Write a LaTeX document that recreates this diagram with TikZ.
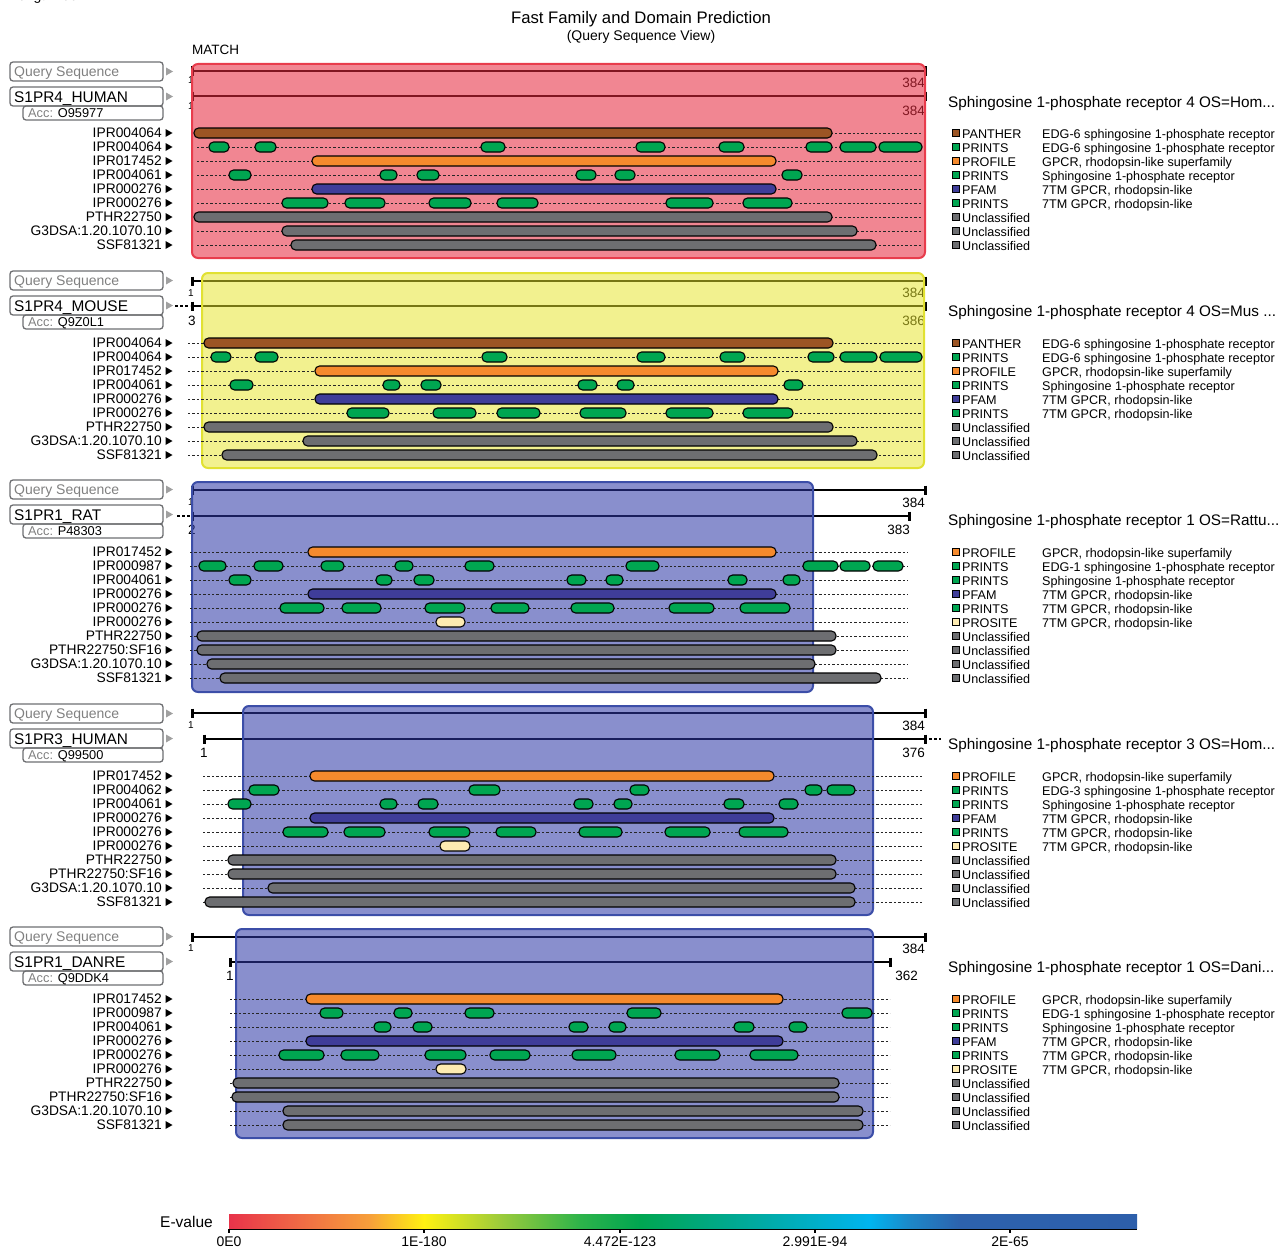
\documentclass[tikz,border=0pt]{standalone}
\usepackage{fontspec}
\setmainfont{Liberation Sans}
\definecolor{cpanther}{HTML}{9C5524}
\definecolor{cprints}{HTML}{00A651}
\definecolor{cprofile}{HTML}{F58A2D}
\definecolor{cpfam}{HTML}{3F3D99}
\definecolor{cuncl}{HTML}{6D6E71}
\definecolor{cprosite}{HTML}{FDEBB1}
\definecolor{ovred}{RGB}{230,40,60}
\definecolor{bdred}{RGB}{232,60,76}
\definecolor{ovyel}{RGB}{230,228,40}
\definecolor{bdyel}{RGB}{225,225,50}
\definecolor{ovblue}{RGB}{45,55,165}
\definecolor{bdblue}{RGB}{60,78,168}
\definecolor{boxgray}{HTML}{6D6E71}
\definecolor{qgray}{HTML}{808080}
\definecolor{tgray}{HTML}{A0A0A0}
\definecolor{e1}{HTML}{E8334A}
\definecolor{e2}{HTML}{F06B45}
\definecolor{e3}{HTML}{F7A03A}
\definecolor{e4}{HTML}{FFF212}
\definecolor{e5}{HTML}{9CCB3B}
\definecolor{e6}{HTML}{2DB34A}
\definecolor{e7}{HTML}{00A651}
\definecolor{e8}{HTML}{00A88F}
\definecolor{e9}{HTML}{00B4EF}
\definecolor{e10}{HTML}{1D87C8}
\definecolor{e11}{HTML}{2D62AD}
\definecolor{e12}{HTML}{2D5FAB}
\tikzset{
 x=1pt,y=-1pt,
 dom/.style={draw=black,line width=1.1pt,rounded corners=4.6pt},
 rowdash/.style={line width=0.8pt,dash pattern=on 2.4pt off 2pt,black!85},
 lab/.style={font=\fontsize{13.8}{14}\selectfont,inner sep=0,anchor=base east},
 legt/.style={font=\fontsize{12.6}{13}\selectfont,inner sep=0,anchor=base west},
 ptitle/.style={font=\fontsize{15.3}{16}\selectfont,inner sep=0,anchor=base west},
 num/.style={font=\fontsize{13.5}{14}\selectfont,inner sep=0},
 snum/.style={font=\fontsize{10}{11}\selectfont,inner sep=0,anchor=base west},
 seq/.style={line width=2.3pt},
 tk/.style={line width=3pt},
 hbox/.style={draw=boxgray,line width=1.3pt,rounded corners=3pt},
 dotext/.style={line width=2.5pt,dash pattern=on 2.5pt off 2.5pt},
}
\newcommand\rowlab[2]{\node[lab] at (162,#1+4.9) {#2};\fill (165.5,#1-4)--(172.5,#1)--(165.5,#1+4)--cycle;}
\newcommand\dashrow[3]{\draw[rowdash] (#2,#1)--(#3,#1);}
\newcommand\bars[3]{\foreach \a/\b in {#2}{\draw[dom,fill=#3] (\a,#1-5) rectangle (\b,#1+5);}}
\newcommand\legitem[4]{\draw[fill=#2,line width=0.9pt] (952.5,#1-4.5) rectangle (959.5,#1+2.5); \node[legt] at (962,#1+4.5) {#3}; \node[legt] at (1042,#1+4.5) {#4};}
\newcommand\seqline[3]{\draw[seq] (#2,#1)--(#3,#1); \draw[tk] (#2,#1-4.5)--(#2,#1+4.5); \draw[tk] (#3,#1-4.5)--(#3,#1+4.5);}
\newcommand\headboxes[3]{%
 \draw[hbox] (10,#1) rectangle (163,#1+19);
 \node[font=\fontsize{14}{15}\selectfont,text=qgray,inner sep=0,anchor=base west] at (14,#1+14.5) {Query Sequence};
 \draw[hbox] (10,#1+25) rectangle (163,#1+44);
 \node[font=\fontsize{15.4}{16}\selectfont,inner sep=0,anchor=base west] at (14,#1+40) {#2};
 \draw[hbox] (23,#1+44) rectangle (163,#1+58);
 \node[font=\fontsize{12.8}{13}\selectfont,inner sep=0,anchor=base west] at (28,#1+55.6) {\textcolor{qgray}{Acc:} #3};
 \fill[tgray] (166,#1+5.5)--(173,#1+9.5)--(166,#1+13.5)--cycle;
 \fill[tgray] (166,#1+30.5)--(173,#1+34.5)--(166,#1+38.5)--cycle;}
\newcommand\cseg[4]{\shade[left color=#3,right color=#4] (#1,1214) rectangle (#2,1228);}
\begin{document}
\begin{tikzpicture}
\useasboundingbox (0,0) rectangle (1279,1247);
\node[font=\fontsize{14}{15}\selectfont,inner sep=0,anchor=base west] (len) at (10,1) {Length: 384};
\node[font=\fontsize{16.7}{18}\selectfont,inner sep=0,anchor=base] (title) at (641,24) {Fast Family and Domain Prediction};
\node[font=\fontsize{14}{15}\selectfont,inner sep=0,anchor=base] (subtitle) at (641,41) {(Query Sequence View)};
\node[font=\fontsize{13.5}{14}\selectfont,inner sep=0,anchor=base west] (match) at (192,55) {MATCH};

%% ---------------- Panel 1
\headboxes{62}{S1PR4\_HUMAN}{O95977}
\seqline{71}{192}{925}
\seqline{96}{192}{925}
\node[snum] at (188,84) {1};
\node[snum] at (188,109) {1};
\node[num,anchor=base east] at (925,88) {384};
\node[num,anchor=base east] at (925,115) {384};
\fill[ovred,fill opacity=0.56,rounded corners=6pt] (192,64) rectangle (925,258);
\draw[bdred,line width=2pt,rounded corners=6pt] (192,64) rectangle (925,258);
\foreach \y/\l in {133/IPR004064,147/IPR004064,161/IPR017452,175/IPR004061,189/IPR000276,203/IPR000276,217/PTHR22750,231/G3DSA:1.20.1070.10,245/SSF81321}{\rowlab{\y}{\l}\dashrow{\y}{197}{922}}
\bars{133}{194/832}{cpanther}
\bars{147}{209/229,255/276,481/505,636/665,719/744,806/832,840/876,879/922}{cprints}
\bars{161}{312/776}{cprofile}
\bars{175}{229/251,380/397,417/439,576/596,615/635,782/802}{cprints}
\bars{189}{312/776}{cpfam}
\bars{203}{282/328,345/385,429/471,497/538,666/713,743/792}{cprints}
\bars{217}{194/832}{cuncl}
\bars{231}{282/857}{cuncl}
\bars{245}{291/876}{cuncl}
\node[ptitle] at (948,107.5) {Sphingosine 1-phosphate receptor 4 OS=Hom...};
\legitem{134}{cpanther}{PANTHER}{EDG-6 sphingosine 1-phosphate receptor}
\legitem{148}{cprints}{PRINTS}{EDG-6 sphingosine 1-phosphate receptor}
\legitem{162}{cprofile}{PROFILE}{GPCR, rhodopsin-like superfamily}
\legitem{176}{cprints}{PRINTS}{Sphingosine 1-phosphate receptor}
\legitem{190}{cpfam}{PFAM}{7TM GPCR, rhodopsin-like}
\legitem{204}{cprints}{PRINTS}{7TM GPCR, rhodopsin-like}
\legitem{218}{cuncl}{Unclassified}{}
\legitem{232}{cuncl}{Unclassified}{}
\legitem{246}{cuncl}{Unclassified}{}

%% ---------------- Panel 2
\headboxes{271}{S1PR4\_MOUSE}{Q9Z0L1}
\seqline{281}{192}{925}
\seqline{306}{192}{925}
\draw[dotext] (175,306)--(190,306);
\node[snum] at (188,296.5) {1};
\node[num,anchor=base west] at (188,325) {3};
\node[num,anchor=base east] at (925,297) {384};
\node[num,anchor=base east] at (925,325) {386};
\fill[ovyel,fill opacity=0.52,rounded corners=6pt] (202,273) rectangle (924,468);
\draw[bdyel,line width=2pt,rounded corners=6pt] (202,273) rectangle (924,468);
\foreach \y/\l in {343/IPR004064,357/IPR004064,371/IPR017452,385/IPR004061,399/IPR000276,413/IPR000276,427/PTHR22750,441/G3DSA:1.20.1070.10,455/SSF81321}{\rowlab{\y}{\l}\dashrow{\y}{188}{922}}
\bars{343}{204/833}{cpanther}
\bars{357}{211/231,255/278,482/507,637/665,720/745,808/834,840/877,880/922}{cprints}
\bars{371}{315/778}{cprofile}
\bars{385}{230/253,383/400,421/441,578/597,617/634,784/803}{cprints}
\bars{399}{315/778}{cpfam}
\bars{413}{347/389,433/476,497/540,580/626,666/713,743/793}{cprints}
\bars{427}{204/833}{cuncl}
\bars{441}{303/857}{cuncl}
\bars{455}{222/877}{cuncl}
\node[ptitle] at (948,316.5) {Sphingosine 1-phosphate receptor 4 OS=Mus ...};
\legitem{344}{cpanther}{PANTHER}{EDG-6 sphingosine 1-phosphate receptor}
\legitem{358}{cprints}{PRINTS}{EDG-6 sphingosine 1-phosphate receptor}
\legitem{372}{cprofile}{PROFILE}{GPCR, rhodopsin-like superfamily}
\legitem{386}{cprints}{PRINTS}{Sphingosine 1-phosphate receptor}
\legitem{400}{cpfam}{PFAM}{7TM GPCR, rhodopsin-like}
\legitem{414}{cprints}{PRINTS}{7TM GPCR, rhodopsin-like}
\legitem{428}{cuncl}{Unclassified}{}
\legitem{442}{cuncl}{Unclassified}{}
\legitem{456}{cuncl}{Unclassified}{}

%% ---------------- Panel 3
\headboxes{480}{S1PR1\_RAT}{P48303}
\seqline{490}{192}{925}
\seqline{516}{192}{909}
\draw[dotext] (177,516)--(190,516);
\node[snum] at (188,505.5) {1};
\node[num,anchor=base west] at (188,534) {2};
\node[num,anchor=base east] at (925,507) {384};
\node[num,anchor=base east] at (910,534) {383};
\fill[ovblue,fill opacity=0.56,rounded corners=6pt] (192,482) rectangle (813,692);
\draw[bdblue,line width=2pt,rounded corners=6pt] (192,482) rectangle (813,692);
\foreach \y/\l in {552/IPR017452,566/IPR000987,580/IPR004061,594/IPR000276,608/IPR000276,622/IPR000276,636/PTHR22750,650/PTHR22750:SF16,664/G3DSA:1.20.1070.10,678/SSF81321}{\rowlab{\y}{\l}\dashrow{\y}{190}{908}}
\bars{552}{308/776}{cprofile}
\bars{566}{199/226,254/283,321/344,395/413,465/494,626/659,803/838,840/870,873/903}{cprints}
\bars{580}{229/251,376/392,414/434,567/586,606/623,728/747,783/800}{cprints}
\bars{594}{308/776}{cpfam}
\bars{608}{280/324,342/381,425/465,491/529,571/614,669/714,740/790}{cprints}
\bars{622}{436/465}{cprosite}
\bars{636}{197/836}{cuncl}
\bars{650}{197/836}{cuncl}
\bars{664}{207/815}{cuncl}
\bars{678}{220/881}{cuncl}
\node[ptitle] at (948,525.5) {Sphingosine 1-phosphate receptor 1 OS=Rattu...};
\legitem{553}{cprofile}{PROFILE}{GPCR, rhodopsin-like superfamily}
\legitem{567}{cprints}{PRINTS}{EDG-1 sphingosine 1-phosphate receptor}
\legitem{581}{cprints}{PRINTS}{Sphingosine 1-phosphate receptor}
\legitem{595}{cpfam}{PFAM}{7TM GPCR, rhodopsin-like}
\legitem{609}{cprints}{PRINTS}{7TM GPCR, rhodopsin-like}
\legitem{623}{cprosite}{PROSITE}{7TM GPCR, rhodopsin-like}
\legitem{637}{cuncl}{Unclassified}{}
\legitem{651}{cuncl}{Unclassified}{}
\legitem{665}{cuncl}{Unclassified}{}
\legitem{679}{cuncl}{Unclassified}{}

%% ---------------- Panel 4
\headboxes{704}{S1PR3\_HUMAN}{Q99500}
\seqline{713}{192}{925}
\seqline{739}{204}{925}
\draw[dotext] (929,739)--(941,739);
\node[snum] at (188,728.5) {1};
\node[num,anchor=base west] at (200,757) {1};
\node[num,anchor=base east] at (925,730) {384};
\node[num,anchor=base east] at (925,757) {376};
\fill[ovblue,fill opacity=0.56,rounded corners=6pt] (243,706) rectangle (873,915);
\draw[bdblue,line width=2pt,rounded corners=6pt] (243,706) rectangle (873,915);
\foreach \y/\l in {776/IPR017452,790/IPR004062,804/IPR004061,818/IPR000276,832/IPR000276,846/IPR000276,860/PTHR22750,874/PTHR22750:SF16,888/G3DSA:1.20.1070.10,902/SSF81321}{\rowlab{\y}{\l}\dashrow{\y}{203}{922}}
\bars{776}{310/774}{cprofile}
\bars{790}{249/279,469/500,630/649,805/822,827/855}{cprints}
\bars{804}{228/251,380/397,418/438,574/593,614/632,724/744,779/798}{cprints}
\bars{818}{310/774}{cpfam}
\bars{832}{283/328,344/385,429/470,496/536,579/622,665/710,739/788}{cprints}
\bars{846}{440/470}{cprosite}
\bars{860}{228/836}{cuncl}
\bars{874}{228/836}{cuncl}
\bars{888}{268/855}{cuncl}
\bars{902}{205/855}{cuncl}
\node[ptitle] at (948,749.5) {Sphingosine 1-phosphate receptor 3 OS=Hom...};
\legitem{777}{cprofile}{PROFILE}{GPCR, rhodopsin-like superfamily}
\legitem{791}{cprints}{PRINTS}{EDG-3 sphingosine 1-phosphate receptor}
\legitem{805}{cprints}{PRINTS}{Sphingosine 1-phosphate receptor}
\legitem{819}{cpfam}{PFAM}{7TM GPCR, rhodopsin-like}
\legitem{833}{cprints}{PRINTS}{7TM GPCR, rhodopsin-like}
\legitem{847}{cprosite}{PROSITE}{7TM GPCR, rhodopsin-like}
\legitem{861}{cuncl}{Unclassified}{}
\legitem{875}{cuncl}{Unclassified}{}
\legitem{889}{cuncl}{Unclassified}{}
\legitem{903}{cuncl}{Unclassified}{}

%% ---------------- Panel 5
\headboxes{927}{S1PR1\_DANRE}{Q9DDK4}
\seqline{937}{192}{925}
\seqline{962}{230}{890}
\node[snum] at (188,951.5) {1};
\node[num,anchor=base west] at (226,980) {1};
\node[num,anchor=base east] at (925,953) {384};
\node[num,anchor=base east] at (918,980) {362};
\fill[ovblue,fill opacity=0.56,rounded corners=6pt] (236,929) rectangle (873,1138);
\draw[bdblue,line width=2pt,rounded corners=6pt] (236,929) rectangle (873,1138);
\foreach \y/\l in {999/IPR017452,1013/IPR000987,1027/IPR004061,1041/IPR000276,1055/IPR000276,1069/IPR000276,1083/PTHR22750,1097/PTHR22750:SF16,1111/G3DSA:1.20.1070.10,1125/SSF81321}{\rowlab{\y}{\l}\dashrow{\y}{230}{890}}
\bars{999}{306/783}{cprofile}
\bars{1013}{320/343,394/412,465/494,627/661,842/872}{cprints}
\bars{1027}{374/391,413/432,569/588,609/626,734/754,789/807}{cprints}
\bars{1041}{306/783}{cpfam}
\bars{1055}{279/324,341/379,425/466,490/530,572/616,675/720,750/798}{cprints}
\bars{1069}{436/466}{cprosite}
\bars{1083}{233/839}{cuncl}
\bars{1097}{232/839}{cuncl}
\bars{1111}{283/863}{cuncl}
\bars{1125}{283/863}{cuncl}
\node[ptitle] at (948,972.5) {Sphingosine 1-phosphate receptor 1 OS=Dani...};
\legitem{1000}{cprofile}{PROFILE}{GPCR, rhodopsin-like superfamily}
\legitem{1014}{cprints}{PRINTS}{EDG-1 sphingosine 1-phosphate receptor}
\legitem{1028}{cprints}{PRINTS}{Sphingosine 1-phosphate receptor}
\legitem{1042}{cpfam}{PFAM}{7TM GPCR, rhodopsin-like}
\legitem{1056}{cprints}{PRINTS}{7TM GPCR, rhodopsin-like}
\legitem{1070}{cprosite}{PROSITE}{7TM GPCR, rhodopsin-like}
\legitem{1084}{cuncl}{Unclassified}{}
\legitem{1098}{cuncl}{Unclassified}{}
\legitem{1112}{cuncl}{Unclassified}{}
\legitem{1126}{cuncl}{Unclassified}{}

%% ---------------- Colour bar
\node[font=\fontsize{15.5}{16}\selectfont,inner sep=0,anchor=base west] (ev) at (160,1227.5) {E-value};
\cseg{229}{300.5}{e1}{e2}
\cseg{300}{370.5}{e2}{e3}
\cseg{370}{424.5}{e3}{e4}
\cseg{424}{500.5}{e4}{e5}
\cseg{500}{580.5}{e5}{e6}
\cseg{580}{640.5}{e6}{e7}
\cseg{640}{730.5}{e7}{e8}
\cseg{730}{870.5}{e8}{e9}
\cseg{870}{910.5}{e9}{e10}
\cseg{910}{960.5}{e10}{e11}
\cseg{960}{1137}{e11}{e12}
\draw[line width=1.5pt] (229,1229.5)--(1137,1229.5);
\foreach \x/\t in {229/0E0,424/1E-180,620/4.472E-123,815/2.991E-94,1010/2E-65}{
 \draw[line width=1.2pt] (\x,1229)--(\x,1233);
 \node[font=\fontsize{14}{15}\selectfont,inner sep=0,anchor=base] at (\x,1246) {\t};}
\end{tikzpicture}
\end{document}
